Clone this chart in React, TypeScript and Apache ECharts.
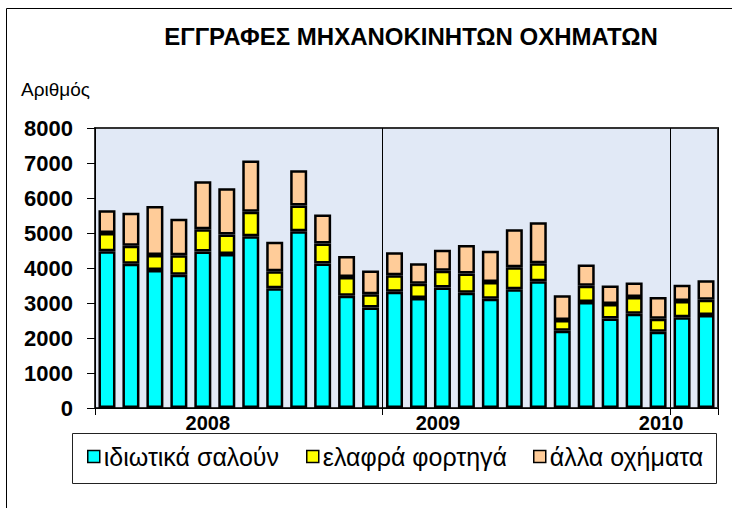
import React, { useEffect, useRef } from "react";
import * as echarts from "echarts";

const months = [
  "2008-01", "2008-02", "2008-03", "2008-04", "2008-05", "2008-06",
  "2008-07", "2008-08", "2008-09", "2008-10", "2008-11", "2008-12",
  "2009-01", "2009-02", "2009-03", "2009-04", "2009-05", "2009-06",
  "2009-07", "2009-08", "2009-09", "2009-10", "2009-11", "2009-12",
  "2010-01", "2010-02",
];

const seriesNames = ["ιδιωτικά σαλούν", "ελαφρά φορτηγά", "άλλα οχήματα"];

const privateCars = [
  4480, 4120, 3940, 3810, 4470, 4400, 4910, 3420, 5050, 4130, 3210, 2870,
  3320, 3140, 3440, 3290, 3120, 3390, 3620, 2210, 3030, 2560, 2690, 2180,
  2590, 2660,
];
const lightTrucks = [
  520, 516, 430, 555, 640, 560, 700, 490, 735, 570, 535, 380,
  470, 410, 480, 550, 480, 630, 515, 305, 460, 410, 485, 370,
  470, 435,
];
const otherVehicles = [
  650, 946, 1400, 1045, 1370, 1320, 1460, 840, 1005, 830, 600, 680,
  660, 585, 600, 820, 890, 1090, 1175, 705, 610, 530, 410, 620,
  460, 555,
];

const yearLabelIndex: Record<number, string> = { 4: "2008", 14: "2009", 23: "2010" };
const yearStyleKey: Record<number, string> = { 4: "a", 14: "b", 23: "c" };
const yearBoundaries = [0, 12, 24];

const colors = ["#00FFFF", "#FFFF00", "#FFCC99"];
const FONT = '"Liberation Sans", Arial, Helvetica, sans-serif';

export default function App() {
  const ref = useRef<HTMLDivElement>(null);

  useEffect(() => {
    if (!ref.current) return;
    const chart = echarts.init(ref.current, null, { renderer: "svg" });

    const yearRich = (padding: number[]) => ({
      fontSize: 20,
      fontWeight: "bold",
      fontFamily: FONT,
      color: "#000",
      padding,
    });

    const mkSeries = (name: string, data: number[], color: string) => ({
      name,
      type: "bar",
      stack: "total",
      data,
      barWidth: 17,
      itemStyle: { color, borderColor: "#000", borderWidth: 2.5 },
    });

    const legendPos = [87, 306, 533];

    chart.setOption({
      animation: false,
      backgroundColor: "#ffffff",
      color: colors,
      graphic: [
        {
          type: "rect",
          z: 0,
          shape: { x: 6.5, y: 8.5, width: 780, height: 560 },
          style: { fill: "none", stroke: "#000", lineWidth: 1 },
        },
        {
          type: "rect",
          z: 0,
          shape: { x: 72.5, y: 433.5, width: 644, height: 50 },
          style: { fill: "#fff", stroke: "#222", lineWidth: 1 },
        },
        {
          type: "text",
          x: 411,
          y: 36,
          style: {
            text: "ΕΓΓΡΑΦΕΣ ΜΗΧΑΝΟΚΙΝΗΤΩΝ ΟΧΗΜΑΤΩΝ",
            fontSize: 24,
            fontWeight: "bold",
            fontFamily: FONT,
            fill: "#000",
            align: "center",
            verticalAlign: "middle",
          },
        },
      ],
      legend: seriesNames.map((n, i) => ({
        data: [n],
        left: legendPos[i],
        top: 444,
        padding: 0,
        itemWidth: 12,
        itemHeight: 12,
        itemGap: 0,
        icon: "rect",
        itemStyle: { borderColor: "#000", borderWidth: 1.5 },
        textStyle: { fontSize: 25, fontFamily: FONT, color: "#000", padding: [0, 0, 0, -1] },
      })),
      grid: {
        left: 95,
        top: 128,
        width: 623,
        height: 280,
        show: true,
        backgroundColor: "#e1e9f6",
        borderColor: "#333",
        borderWidth: 2,
      },
      xAxis: {
        type: "category",
        data: months,
        boundaryGap: true,
        axisLine: { show: true, lineStyle: { color: "#000", width: 1 } },
        axisTick: {
          show: true,
          interval: (index: number) => yearBoundaries.includes(index),
          length: 7,
          lineStyle: { color: "#000", width: 1 },
        },
        splitLine: {
          show: true,
          interval: (index: number) => index === 12 || index === 24,
          lineStyle: { color: "#000", width: 1 },
        },
        axisLabel: {
          interval: (index: number) => yearLabelIndex[index] !== undefined,
          margin: 5,
          formatter: (_v: string, index: number) =>
            yearLabelIndex[index] ? `{${yearStyleKey[index]}|${yearLabelIndex[index]}}` : "",
          rich: {
            a: yearRich([0, 0, 0, 10]),
            b: yearRich([0, 9, 0, 0]),
            c: yearRich([0, 0, 0, 6]),
          },
        },
      },
      yAxis: {
        type: "value",
        min: 0,
        max: 8000,
        interval: 1000,
        name: "Αριθμός",
        nameLocation: "end",
        nameGap: 39,
        nameTextStyle: {
          fontSize: 19,
          fontFamily: FONT,
          color: "#000",
          align: "right",
          verticalAlign: "middle",
          padding: [0, 5, 0, 0],
        },
        axisLine: { show: true, lineStyle: { color: "#000", width: 1 } },
        axisTick: { show: true, length: 8, lineStyle: { color: "#000", width: 1 } },
        splitLine: { show: false },
        axisLabel: {
          margin: 22,
          fontSize: 22,
          fontWeight: "bold",
          fontFamily: FONT,
          color: "#000",
          formatter: (v: number) => String(v),
        },
      },
      series: [
        mkSeries(seriesNames[0], privateCars, colors[0]),
        mkSeries(seriesNames[1], lightTrucks, colors[1]),
        mkSeries(seriesNames[2], otherVehicles, colors[2]),
      ],
    });

    return () => chart.dispose();
  }, []);

  return (
    <div
      ref={ref}
      style={{ position: "fixed", left: 0, top: 0, width: 732, height: 508 }}
    />
  );
}
